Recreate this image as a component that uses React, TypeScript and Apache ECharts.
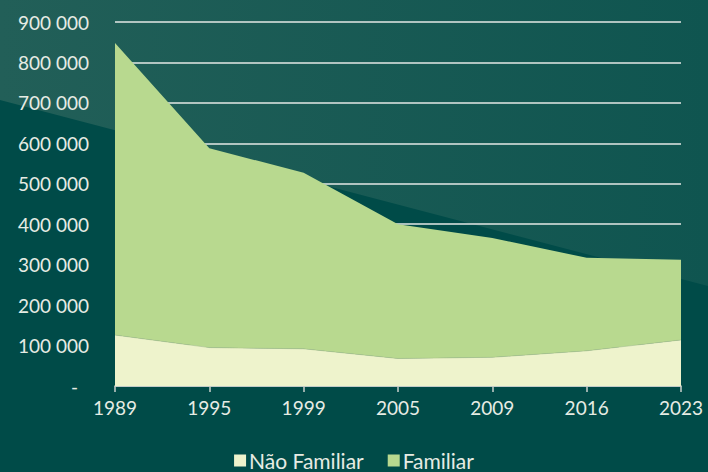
import React, { useEffect, useRef } from "react";
import * as echarts from "echarts";

const categories = ["1989", "1995", "1999", "2005", "2009", "2016", "2023"];
const naoFamiliar = [126000, 95000, 92000, 68000, 71000, 87000, 114000];
const familiar = [722000, 493000, 435000, 332000, 295000, 230000, 198000];
const yTicks = { min: 0, max: 900000, interval: 100000 };

function fmt(v: number): string {
  if (v === 0) return "{d|-}";
  return String(v).replace(/\B(?=(\d{3})+(?!\d))/g, " ");
}

export default function App() {
  const ref = useRef<HTMLDivElement>(null);
  useEffect(() => {
    document.body.style.margin = "0";
    const chart = echarts.init(ref.current!, null, { renderer: "svg" });
    const font = "Lato, 'Noto Sans', sans-serif";
    const textColor = "#E6ECE4";
    chart.setOption({
      animation: false,
      backgroundColor: "#004B48",
      graphic: [
        {
          type: "polygon",
          silent: true,
          z: -10,
          shape: { points: [[0, 0], [708, 0], [708, 286], [0, 100]] },
          style: {
            fill: new echarts.graphic.LinearGradient(0, 0, 1, 0, [
              { offset: 0, color: "#225F58" },
              { offset: 1, color: "#0F5550" },
            ]),
          },
        },
      ],
      grid: { left: 115, right: 27, top: 22, bottom: 86 },
      legend: {
        top: 450,
        left: "center",
        padding: 0,
        itemWidth: 12,
        itemHeight: 12,
        itemGap: 24,
        icon: "rect",
        textStyle: { color: textColor, fontSize: 21, lineHeight: 21, fontFamily: font, padding: [0, 0, 0, -2] },
        data: ["Não Familiar", "Familiar"],
      },
      xAxis: {
        type: "category",
        data: categories,
        boundaryGap: false,
        axisLine: { lineStyle: { color: "#C9CFCB", width: 1.5 } },
        axisTick: { show: true, length: 6, lineStyle: { color: "#C9CFCB", width: 1.5 } },
        axisLabel: { color: textColor, fontSize: 19, fontFamily: font, margin: 12 },
      },
      yAxis: {
        type: "value",
        min: yTicks.min,
        max: yTicks.max,
        interval: yTicks.interval,
        axisLine: { show: false },
        axisTick: { show: false },
        splitLine: { lineStyle: { color: "#E4E8E6", width: 1.5 } },
        axisLabel: {
          color: textColor,
          fontSize: 19,
          fontFamily: font,
          margin: 26,
          formatter: (v: number) => fmt(v),
          rich: {
            d: { color: textColor, fontSize: 19, fontFamily: font, padding: [0, 11, 0, 0] },
          },
        },
      },
      series: [
        {
          name: "Não Familiar",
          type: "line",
          stack: "total",
          data: naoFamiliar,
          symbol: "none",
          itemStyle: { color: "#EEF3CC" },
          lineStyle: { width: 0.6, color: "#A9C48A" },
          areaStyle: { color: "#EEF3CC", opacity: 1 },
          z: 3,
        },
        {
          name: "Familiar",
          type: "line",
          stack: "total",
          data: familiar,
          symbol: "none",
          itemStyle: { color: "#B8D98F" },
          lineStyle: { width: 0 },
          areaStyle: { color: "#B8D98F", opacity: 1 },
          z: 2,
        },
      ],
    });
    return () => chart.dispose();
  }, []);
  return <div ref={ref} style={{ width: 708, height: 472 }} />;
}
